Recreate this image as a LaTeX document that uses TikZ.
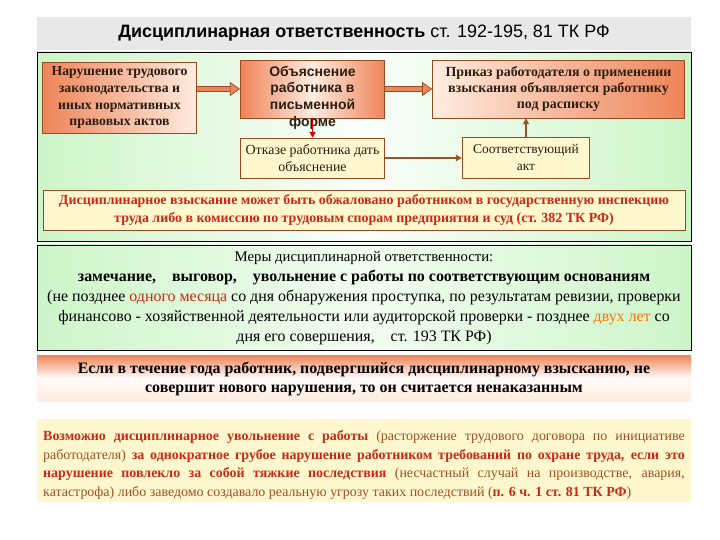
\documentclass[tikz,border=0pt]{standalone}
\usepackage{fontspec}
\setmainfont{Liberation Serif}
\newfontfamily\arialfont{Liberation Sans}
\usetikzlibrary{arrows.meta}

\definecolor{boxorange}{RGB}{238,132,88}
\definecolor{paleorange}{RGB}{255,236,224}
\definecolor{boxbrown}{RGB}{150,75,35}
\definecolor{paleyellow}{RGB}{255,247,205}
\definecolor{palegreen}{RGB}{205,245,200}
\definecolor{textred}{RGB}{205,40,20}
\definecolor{textbrown}{RGB}{160,80,35}
\definecolor{darktext}{RGB}{45,30,20}
\definecolor{titlegray}{RGB}{232,232,232}

\newcommand\fsz[2]{\fontsize{#1}{#2}\selectfont}

\begin{document}
\begin{tikzpicture}[x=1bp,y=-1bp,
  obox/.style={draw=boxbrown, line width=0.6bp, inner sep=0pt, align=center, text=darktext},
  ybox/.style={draw=boxbrown, line width=0.6bp, fill=paleyellow, inner sep=0pt, align=center, text=darktext},
  fatarrow/.style={draw=boxbrown, line width=0.7bp, double=boxorange, double distance=4bp,
    -{Triangle[length=10bp,width=14bp,fill=boxorange]}},
  thinarrow/.style={line width=1.4bp, -{Triangle[length=6bp,width=6bp]}}
]
\useasboundingbox[fill=white] (0,0) rectangle (720,540);

% title
\fill[titlegray] (37,17) rectangle (691,50);
\node[font=\arialfont\fsz{18}{20}] (title) at (364,33)
  {\textbf{Дисциплинарная ответственность} ст. 192-195, 81 ТК РФ};

% first panel
\shade[left color=palegreen, right color=palegreen, middle color=white!90!palegreen]
  (37,52) rectangle (691,241);
\draw[line width=0.8bp] (37,52) rectangle (691,241);

\node[obox, left color=boxorange, right color=paleorange, minimum width=155, minimum height=71,
  font=\fsz{13.8}{17}\bfseries] (viol) at (119.5,97.5)
  {Нарушение трудового\\законодательства и\\иных нормативных\\правовых актов};
\node[obox, left color=boxorange, right color=boxorange, middle color=paleorange,
  minimum width=145, minimum height=58] (expl) at (312.5,89) {};
\node[font=\arialfont\fsz{14}{16.8}\bfseries, align=center, text=darktext] (expltext) at (312.5,97.5)
  {Объяснение\\работника в\\письменной\\форме};
\node[obox, left color=paleorange, right color=boxorange, minimum width=253, minimum height=58,
  font=\fsz{14}{16.5}\bfseries] (order) at (558.5,89)
  {Приказ работодателя о применении\\взыскания объявляется работнику\\под расписку};
\node[ybox, minimum width=145, minimum height=40, font=\fsz{14}{17}] (refuse) at (312.5,158)
  {Отказе работника дать\\объяснение};
\node[ybox, minimum width=128, minimum height=41, font=\fsz{13.5}{17}] (act) at (526,157.5)
  {Соответствующий\\акт};
\node[ybox, minimum width=644, minimum height=40, text=textred, font=\fsz{14}{18}\bfseries]
  (appeal) at (364,210)
  {Дисциплинарное взыскание может быть обжаловано работником в государственную инспекцию\\
   труда либо в комиссию по трудовым спорам предприятия и суд (ст. 382 ТК РФ)};

\draw[fatarrow] (viol.east |- expl.west) -- (expl.west);
\draw[fatarrow] (expl.east) -- (order.west);
\draw[thinarrow, red!85!black] (expl.south) -- (refuse.north);
\draw[thinarrow, textbrown] (refuse.east) -- (refuse.east -| act.west);
\draw[thinarrow, textbrown] (act.north) -- (act.north |- order.south);

% measures
\shade[left color=palegreen, right color=palegreen, middle color=white!75!palegreen]
  (37,245) rectangle (691,350);
\draw[line width=0.8bp] (37,245) rectangle (691,350);
\node[align=center, text=black, font=\fsz{16}{20}] (measures) at (364,298)
  {{\fsz{14.8}{20}Меры дисциплинарной ответственности:}\\
   {\bfseries замечание,\quad выговор,\quad увольнение с работы по соответствующим основаниям}\\
   (не позднее \textcolor{textred}{одного месяца} со дня обнаружения проступка, по результатам ревизии, проверки\\
   финансово - хозяйственной деятельности или аудиторской проверки - позднее \textcolor{orange!90!red}{двух лет} со\\
   дня его совершения,\quad ст. 193 ТК РФ)};

% unpunished
\shade[top color=boxorange, bottom color=paleorange, middle color=white!80!paleorange]
  (37,355) rectangle (691,401);
\node[align=center, text=black, font=\fsz{16}{20}\bfseries] (unpun) at (364,379)
  {Если в течение года работник, подвергшийся дисциплинарному взысканию, не\\
   совершит нового нарушения, то он считается ненаказанным};

% dismissal
\fill[paleyellow] (37,419) rectangle (691,502);
\node[align=justify, text width=644, inner sep=0pt, text=textbrown, font=\fsz{14}{19}] (dismiss) at (364,465)
  {\textcolor{textred}{\bfseries Возможно дисциплинарное увольнение с работы} (расторжение трудового договора по инициативе\linebreak
   работодателя) \textcolor{textred}{\bfseries за однократное грубое нарушение работником требований по охране труда, если это}\linebreak
   \textcolor{textred}{\bfseries нарушение повлекло за собой тяжкие последствия} (несчастный случай на производстве, авария,\linebreak
   катастрофа) либо заведомо создавало реальную угрозу таких последствий (\textcolor{textred}{\bfseries п. 6 ч. 1 ст. 81 ТК РФ})};
\end{tikzpicture}
\end{document}
